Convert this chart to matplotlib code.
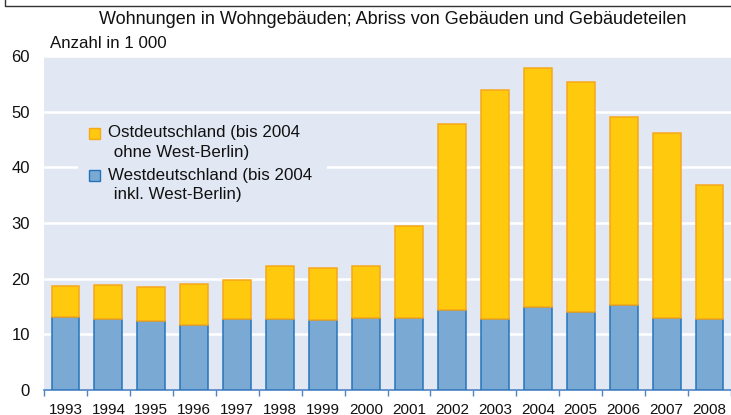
import matplotlib.pyplot as plt
from matplotlib.lines import Line2D
from matplotlib.patches import Rectangle
import numpy as np

plt.rcParams['font.family'] = ['Liberation Sans', 'DejaVu Sans']

# Daten (Anzahl in 1 000)
years = ['1993', '1994', '1995', '1996', '1997', '1998', '1999', '2000',
         '2001', '2002', '2003', '2004', '2005', '2006', '2007', '2008']
west = [13.2, 12.7, 12.4, 11.7, 12.7, 12.8, 12.6, 13.0,
        13.0, 14.4, 12.8, 14.9, 14.0, 15.2, 12.9, 12.8]
total = [18.6, 18.8, 18.5, 19.0, 19.7, 22.2, 22.0, 22.3,
         29.4, 47.8, 53.9, 57.8, 55.3, 49.0, 46.1, 36.9]
ost = [t - w for t, w in zip(total, west)]

bg = '#E1E8F3'
yellow = '#FFC90E'
yellow_edge = '#F7A81B'
blue = '#7AAAD3'
blue_edge = '#2474BC'

W, H = 731, 415
fig = plt.figure(figsize=(W / 100, H / 100), dpi=100)
ax = fig.add_axes([44 / W, 25 / H, 687 / W, 334 / H])
ax.set_facecolor(bg)

x = np.arange(len(years))
ax.bar(x, west, width=0.65, color=blue, edgecolor=blue_edge, linewidth=1.1, zorder=3)
ax.bar(x, ost, bottom=west, width=0.65, color=yellow, edgecolor=yellow_edge,
       linewidth=1.1, zorder=3)

ax.set_ylim(0, 60)
ax.set_xlim(-0.5, 15.4)
ax.set_yticks(range(0, 61, 10))
ax.yaxis.grid(True, color='white', linewidth=1.8)
ax.set_axisbelow(True)

for s in ['top', 'right', 'left']:
    ax.spines[s].set_visible(False)
ax.spines['bottom'].set_color('#4F83C4')
ax.spines['bottom'].set_linewidth(1.2)

ax.set_xticks(x)
ax.set_xticklabels(years)
ax.set_xticks(np.arange(-0.5, 15.6, 1), minor=True)
ax.tick_params(axis='x', which='major', length=0, labelsize=11, pad=9, colors='#111111')
ax.tick_params(axis='x', which='minor', length=4, width=1, color='#4F83C4', direction='out')
ax.tick_params(axis='y', length=0, labelsize=12, pad=10, colors='#111111')

# Legende (von Hand, Marker an der ersten Zeile ausgerichtet)
def px(xp, yp):
    return xp / W, 1 - yp / H

fig.add_artist(Rectangle(px(78, 212), 249 / W, 97 / H, transform=fig.transFigure,
                         facecolor=bg, edgecolor='none', zorder=1.5))
fig.add_artist(Rectangle(px(88.5, 139), 11 / W, 11 / H, transform=fig.transFigure,
                         facecolor=yellow, edgecolor=yellow_edge, linewidth=1, zorder=4))
fig.add_artist(Rectangle(px(88.5, 181), 11 / W, 11 / H, transform=fig.transFigure,
                         facecolor=blue, edgecolor=blue_edge, linewidth=1, zorder=4))
leg_labels = [('Ostdeutschland (bis 2004', 108, 133), (' ohne West-Berlin)', 109, 152),
              ('Westdeutschland (bis 2004', 108, 175), (' inkl. West-Berlin)', 109, 194)]
for txt, xp, yp in leg_labels:
    fig.text(*px(xp, yp), txt, ha='left', va='center', fontsize=12.2,
             color='#111111', zorder=4)

fig.text(*px(392.5, 20), 'Wohnungen in Wohngebäuden; Abriss von Gebäuden und Gebäudeteilen',
         ha='center', va='center', fontsize=13, color='#111111')
fig.text(*px(50, 44), 'Anzahl in 1 000', ha='left', va='center',
         fontsize=12.2, color='#111111')

# Rahmenlinie oben
fig.add_artist(Line2D([5 / W, 5 / W, 1], [1, 1 - 6 / H, 1 - 6 / H],
                      color='#333333', linewidth=1.0))

fig.savefig('out.png', dpi=100)
